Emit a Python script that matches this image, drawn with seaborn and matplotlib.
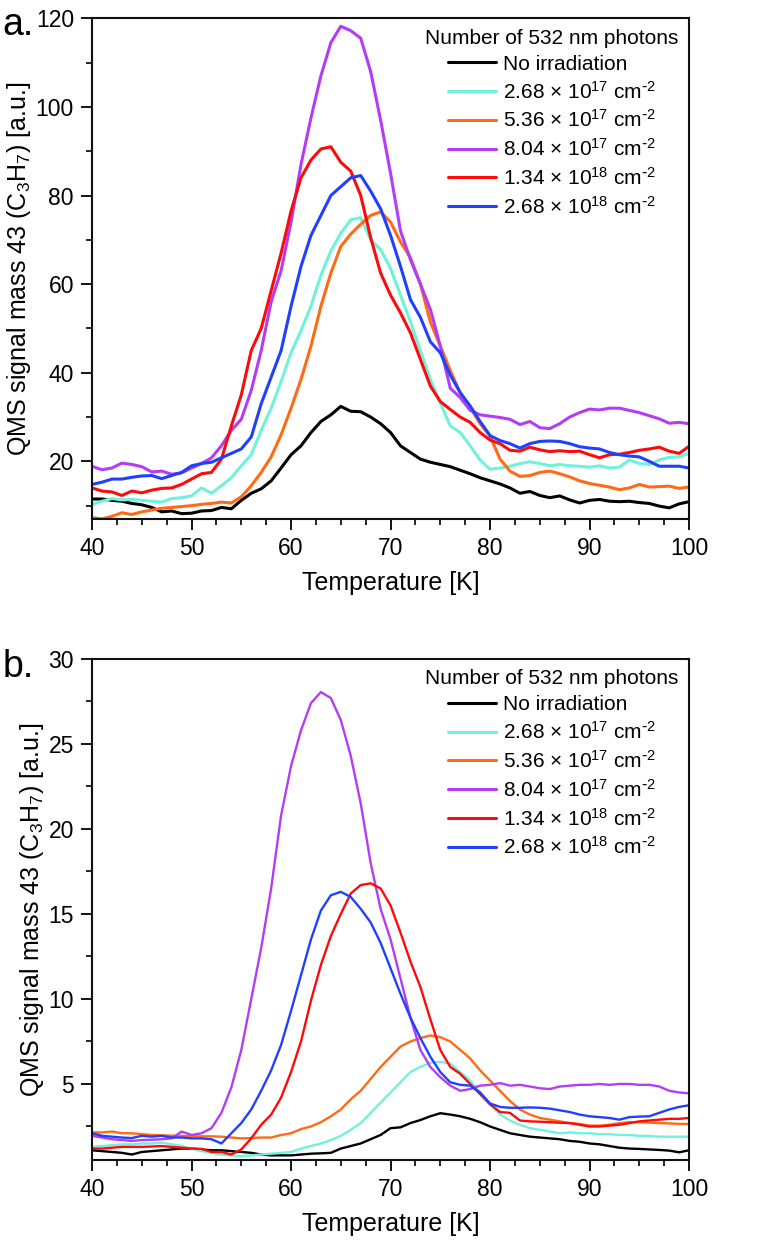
import numpy as np
import pandas as pd
import matplotlib
matplotlib.use("Agg")
import matplotlib.pyplot as plt
from matplotlib.ticker import MultipleLocator
import seaborn as sns

# temperatures (K), 1 K steps
temp = list(range(40, 101))

labels = ["No irradiation",
          r"2.68 $\times$ 10$^{17}$ cm$^{\text{-}2}$",
          r"5.36 $\times$ 10$^{17}$ cm$^{\text{-}2}$",
          r"8.04 $\times$ 10$^{17}$ cm$^{\text{-}2}$",
          r"1.34 $\times$ 10$^{18}$ cm$^{\text{-}2}$",
          r"2.68 $\times$ 10$^{18}$ cm$^{\text{-}2}$"]
colors = ["#000000", "#6ff2dc", "#ff6a14", "#b43cf5", "#ff0a0a", "#2040ff"]

# --- panel a ---
a_none = [11.5, 11.5, 11.2, 11.0, 10.5, 10.2, 9.6, 8.6, 8.8, 8.2, 8.3, 8.8, 8.9, 9.6, 9.3,
          11.2, 12.8, 13.8, 15.6, 18.5, 21.5, 23.5, 26.5, 29.0, 30.5, 32.4, 31.3, 31.2, 30.0,
          28.5, 26.5, 23.5, 22.0, 20.5, 19.8, 19.3, 18.8, 18.0, 17.2, 16.3, 15.6, 14.9, 14.0,
          12.8, 13.2, 12.3, 11.8, 12.2, 11.3, 10.6, 11.2, 11.4, 11.0, 10.9, 11.0, 10.7, 10.5,
          9.9, 9.5, 10.4, 10.9]
a_268e17 = [10.3, 11.0, 11.6, 11.3, 11.4, 11.2, 11.0, 10.8, 11.6, 11.8, 12.2, 14.0, 12.8, 14.5,
            16.3, 19.0, 21.5, 27.0, 32.0, 38.0, 44.5, 49.5, 55.0, 62.0, 67.5, 71.5, 74.5, 75.0,
            70.0, 67.8, 63.5, 57.5, 51.5, 45.0, 38.5, 33.2, 28.0, 26.5, 23.5, 20.3, 18.2, 18.5,
            18.9, 19.5, 19.9, 19.5, 19.0, 19.3, 19.0, 18.9, 18.7, 19.0, 18.5, 18.7, 20.3, 19.5,
            19.3, 20.3, 20.9, 21.0, 21.8]
a_536e17 = [7.3, 7.0, 7.6, 8.4, 8.0, 8.6, 9.0, 9.4, 9.6, 9.8, 10.0, 10.3, 10.5, 10.8, 10.6,
            12.0, 14.5, 17.5, 21.0, 26.0, 32.0, 38.5, 46.0, 55.0, 62.5, 68.5, 71.3, 73.5, 75.5,
            76.3, 74.0, 69.5, 66.0, 60.0, 51.5, 46.0, 40.5, 35.5, 32.2, 28.5, 25.7, 20.5, 17.8,
            16.6, 16.8, 17.5, 17.8, 17.2, 16.5, 15.6, 15.0, 14.6, 14.2, 13.6, 14.0, 14.8, 14.2,
            14.3, 14.4, 13.9, 14.2]
a_804e17 = [18.9, 18.1, 18.5, 19.6, 19.3, 18.8, 17.6, 17.8, 17.1, 17.4, 18.5, 19.5, 20.8, 23.5,
            27.0, 29.5, 36.0, 45.0, 56.0, 63.0, 74.0, 87.0, 97.5, 107.0, 114.5, 118.2, 117.2,
            115.5, 108.0, 97.0, 85.0, 72.0, 65.5, 60.0, 54.3, 46.0, 36.5, 34.4, 31.5, 30.5, 30.2,
            29.9, 29.5, 28.3, 29.0, 27.6, 27.4, 28.5, 30.0, 31.0, 31.8, 31.6, 32.0, 32.0, 31.5,
            31.0, 30.3, 29.6, 28.6, 28.8, 28.5]
a_134e18 = [14.0, 13.3, 13.1, 12.3, 13.3, 12.9, 13.5, 13.9, 14.0, 14.8, 16.0, 17.2, 17.5, 20.5,
            28.0, 35.0, 45.0, 50.0, 58.5, 67.0, 76.5, 84.0, 88.0, 90.5, 91.0, 87.5, 85.5, 80.0,
            70.5, 62.5, 57.5, 53.5, 49.0, 43.0, 37.0, 33.5, 31.7, 30.0, 28.8, 26.5, 24.8, 24.0,
            22.5, 22.3, 23.2, 22.6, 22.2, 22.4, 22.2, 22.3, 21.5, 20.8, 21.5, 21.6, 22.0, 22.5,
            22.8, 23.2, 22.3, 21.8, 23.4]
a_268e18 = [14.8, 15.3, 16.0, 16.0, 16.4, 16.7, 16.8, 16.1, 16.8, 17.5, 19.0, 19.5, 19.8, 20.8,
            21.8, 22.8, 25.5, 33.0, 39.0, 45.0, 55.0, 64.0, 71.0, 75.5, 80.0, 82.0, 84.0, 84.5,
            81.0, 77.0, 71.0, 64.0, 56.5, 52.5, 47.0, 44.5, 39.5, 35.5, 32.5, 29.0, 25.8, 24.7,
            24.0, 23.0, 24.0, 24.5, 24.6, 24.5, 24.0, 23.3, 23.0, 22.8, 22.0, 21.5, 21.2, 21.0,
            20.0, 18.9, 18.9, 18.9, 18.5]

# --- panel b ---
b_none = [1.1, 1.05, 1.0, 0.95, 0.85, 1.0, 1.05, 1.1, 1.15, 1.2, 1.2, 1.15, 1.1, 1.1, 1.05,
          1.0, 0.95, 0.85, 0.8, 0.8, 0.8, 0.85, 0.9, 0.92, 0.95, 1.2, 1.35, 1.5, 1.75, 2.0,
          2.4, 2.45, 2.7, 2.88, 3.1, 3.28, 3.2, 3.1, 2.95, 2.75, 2.5, 2.3, 2.1, 2.0, 1.9, 1.85,
          1.8, 1.75, 1.65, 1.6, 1.5, 1.45, 1.35, 1.25, 1.2, 1.18, 1.15, 1.12, 1.08, 0.98, 1.1]
b_268e17 = [1.3, 1.35, 1.4, 1.45, 1.45, 1.5, 1.5, 1.55, 1.45, 1.35, 1.2, 1.05, 0.95, 0.85,
            0.8, 0.75, 0.8, 0.85, 0.9, 0.95, 1.0, 1.2, 1.35, 1.5, 1.7, 1.95, 2.3, 2.7, 3.3, 3.9,
            4.5, 5.1, 5.7, 6.0, 6.25, 6.3, 6.2, 5.7, 5.2, 4.5, 3.8, 3.2, 2.85, 2.6, 2.4, 2.3,
            2.2, 2.1, 2.15, 2.1, 2.1, 2.05, 2.05, 2.0, 2.0, 1.95, 1.95, 1.9, 1.9, 1.9, 1.9]
b_536e17 = [2.15, 2.15, 2.2, 2.1, 2.1, 2.05, 2.0, 1.98, 1.96, 1.95, 1.92, 1.92, 1.92, 1.9,
            1.85, 1.8, 1.82, 1.85, 1.85, 2.0, 2.1, 2.35, 2.5, 2.75, 3.1, 3.5, 4.1, 4.6, 5.3,
            6.0, 6.6, 7.2, 7.5, 7.7, 7.85, 7.75, 7.5, 7.0, 6.5, 5.8, 5.2, 4.6, 4.0, 3.5, 3.2,
            3.0, 2.9, 2.8, 2.7, 2.65, 2.55, 2.55, 2.6, 2.7, 2.75, 2.75, 2.72, 2.7, 2.68, 2.65, 2.65]
b_804e17 = [1.95, 1.85, 1.75, 1.7, 1.65, 1.7, 1.72, 1.75, 1.8, 2.2, 2.0, 2.1, 2.4, 3.3, 4.8,
            7.0, 10.0, 13.0, 16.5, 20.8, 23.7, 25.8, 27.4, 28.05, 27.7, 26.4, 24.3, 21.5, 18.0,
            15.3, 13.5, 11.2, 8.9, 7.0, 6.0, 5.4, 4.9, 4.6, 4.7, 4.9, 4.95, 5.05, 4.9, 4.95,
            4.85, 4.75, 4.7, 4.85, 4.9, 4.95, 4.95, 5.0, 4.95, 5.0, 5.0, 4.95, 4.95, 4.85, 4.6,
            4.5, 4.45]
b_134e18 = [1.2, 1.2, 1.25, 1.3, 1.3, 1.3, 1.32, 1.35, 1.3, 1.25, 1.2, 1.18, 1.0, 1.0, 0.85,
            1.15, 1.8, 2.6, 3.2, 4.2, 5.7, 7.5, 9.9, 12.0, 13.7, 15.0, 16.2, 16.7, 16.8, 16.5,
            15.5, 13.9, 12.2, 10.7, 8.8, 7.0, 6.0, 5.6, 5.0, 4.4, 3.8, 3.35, 3.3, 2.85, 2.8,
            2.78, 2.75, 2.72, 2.7, 2.6, 2.5, 2.5, 2.55, 2.6, 2.7, 2.8, 2.85, 2.9, 2.95, 2.95, 3.0]
b_268e18 = [2.1, 1.95, 1.9, 1.85, 1.82, 1.95, 1.9, 1.95, 1.85, 1.85, 1.8, 1.8, 1.75, 1.5, 2.1,
            2.7, 3.5, 4.6, 5.8, 7.3, 9.3, 11.4, 13.5, 15.2, 16.1, 16.3, 16.0, 15.3, 14.5, 13.3,
            11.8, 10.3, 8.9, 7.7, 6.6, 5.7, 5.1, 4.95, 4.9, 4.5, 3.85, 3.65, 3.6, 3.6, 3.62,
            3.6, 3.55, 3.45, 3.35, 3.2, 3.1, 3.05, 3.0, 2.9, 3.05, 3.08, 3.1, 3.3, 3.5, 3.65, 3.75]

panel_a = [a_none, a_268e17, a_536e17, a_804e17, a_134e18, a_268e18]
panel_b = [b_none, b_268e17, b_536e17, b_804e17, b_134e18, b_268e18]


def long_form(series):
    rows = []
    for lab, vals in zip(labels, series):
        rows.append(pd.DataFrame({"T": temp, "signal": vals, "dose": lab}))
    return pd.concat(rows, ignore_index=True)


sns.set_style("ticks")
plt.rcParams["font.family"] = ["Liberation Sans", "DejaVu Sans"]
plt.rcParams["mathtext.default"] = "regular"
plt.rcParams["text.color"] = "black"
plt.rcParams["axes.labelcolor"] = "black"
plt.rcParams["xtick.color"] = "black"
plt.rcParams["ytick.color"] = "black"

fig = plt.figure(figsize=(7.76, 12.43), dpi=100)
ax_a = fig.add_axes([0.1186, 0.5825, 0.7694, 0.4028])
ax_b = fig.add_axes([0.1186, 0.0668, 0.7694, 0.4031])

setups = [(ax_a, panel_a, (7, 120), 20, 10, 2.2, "a.", 35),
          (ax_b, panel_b, (0.53, 30), 5, 2.5, 1.7, "b.", 677)]

for ax, series, ylim, major, minor, lw, tag, base in setups:
    df = long_form(series)
    sns.lineplot(data=df, x="T", y="signal", hue="dose", hue_order=labels,
                 palette=colors, linewidth=lw, ax=ax, errorbar=None)
    ax.set_xlim(40, 100)
    ax.set_ylim(*ylim)
    ax.xaxis.set_major_locator(MultipleLocator(10))
    ax.xaxis.set_minor_locator(MultipleLocator(2.5))
    ax.yaxis.set_major_locator(MultipleLocator(major))
    ax.yaxis.set_minor_locator(MultipleLocator(minor))
    ax.tick_params(which="major", direction="out", length=8, width=1.3,
                   labelsize=16.5, pad=5, top=False, right=False)
    ax.tick_params(which="minor", direction="out", length=4.5, width=1.2,
                   top=False, right=False)
    for sp in ax.spines.values():
        sp.set_visible(True)
        sp.set_linewidth(1.5)
        sp.set_color("#111111")
    ax.set_xlabel("Temperature [K]", fontsize=18, labelpad=8)
    ax.set_ylabel("QMS signal mass 43 (C$_3$H$_7$) [a.u.]", fontsize=18, labelpad=2)
    leg = ax.legend(title="Number of 532 nm photons", loc="upper right",
                    bbox_to_anchor=(1.0, 1.0), frameon=False, fontsize=15,
                    title_fontsize=15, handlelength=2.3, handletextpad=0.3,
                    labelspacing=0.33, borderpad=0.3, borderaxespad=0.2)
    for line in leg.get_lines():
        line.set_linewidth(2.2)
    fig.text(0.003, 1 - base / 1243, tag, fontsize=27, va="baseline", ha="left")

fig.savefig("out.png", dpi=100)
